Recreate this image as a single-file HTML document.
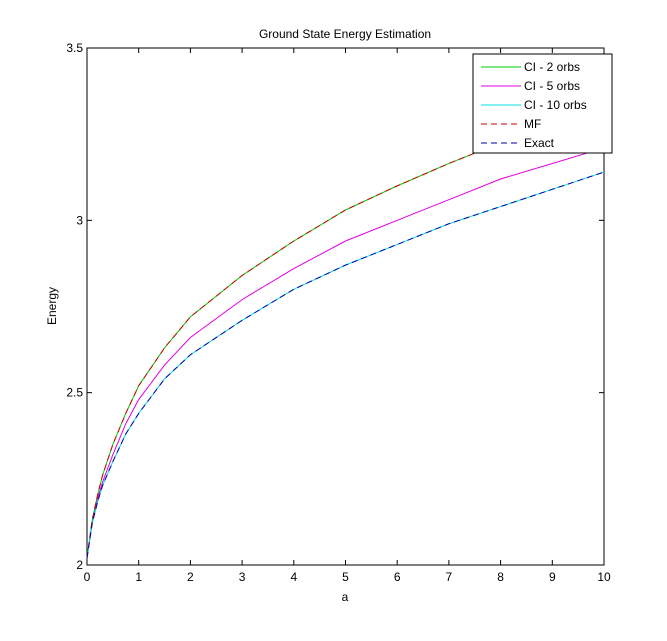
<!DOCTYPE html>
<html><head><meta charset="utf-8"><style>
body{margin:0;background:#fff;font-family:"Liberation Sans",sans-serif;}
svg text{font-family:"Liberation Sans",sans-serif;font-size:12px;fill:#000;}
</style></head><body>
<svg id="chart" width="667" height="636">
<rect x="0" y="0" width="667" height="636" fill="#fff"/>
<text x="345" y="38" text-anchor="middle">Ground State Energy Estimation</text>
<text x="345" y="601" text-anchor="middle">a</text>
<text transform="translate(56,306) rotate(-90)" text-anchor="middle">Energy</text>
<g id="plot"></g>
</svg>
<script>
const xs = [0,0.1,0.2,0.3,0.5,0.75,1,1.5,2,3,4,5,6,7,8,9,10];
const ci2 = [2.02,2.13,2.2,2.26,2.35,2.44,2.52,2.63,2.72,2.84,2.94,3.03,3.10,3.165,3.225,3.28,3.335];
const ci5 = [2.02,2.12,2.19,2.24,2.32,2.41,2.48,2.58,2.66,2.77,2.86,2.94,3.0,3.06,3.12,3.165,3.21];
const exact = [2.02,2.12,2.18,2.23,2.3,2.38,2.44,2.54,2.61,2.71,2.80,2.87,2.93,2.99,3.04,3.09,3.14];
const xTicks = [0,1,2,3,4,5,6,7,8,9,10];
const yTicks = [2,2.5,3,3.5];
const yTickLabels = ["2","2.5","3","3.5"];
const L=87,R=604,T=48,B=565;
const sx=v=>L+(v-0)/(10-0)*(R-L);
const sy=v=>B-(v-2)/(3.5-2)*(B-T);
const NS="http://www.w3.org/2000/svg";
const g=document.getElementById('plot');
function mk(tag,attrs){const e=document.createElementNS(NS,tag);for(const k in attrs)e.setAttribute(k,attrs[k]);g.appendChild(e);return e;}
const box=mk('rect',{x:L,y:T,width:R-L,height:B-T,fill:'none',stroke:'#000','stroke-width':1});


xTicks.forEach(t=>{
  const x=sx(t);
  const l1=mk('line',{x1:x,y1:B,x2:x,y2:B-5,stroke:'#000'});
  
  
  const l2=mk('line',{x1:x,y1:T,x2:x,y2:T+5,stroke:'#000'});
  
  
  const tx=mk('text',{x:x,y:B+16,'text-anchor':'middle'});tx.textContent=t;
  
  
});
yTicks.forEach((t,i)=>{
  const y=sy(t);
  const l1=mk('line',{x1:L,y1:y,x2:L+5,y2:y,stroke:'#000'});
  
  
  const l2=mk('line',{x1:R,y1:y,x2:R-5,y2:y,stroke:'#000'});
  
  
  const tx=mk('text',{x:L-4,y:y+4,'text-anchor':'end'});tx.textContent=yTickLabels[i];
  
  
});
function line(vals,color,dash,name){
  const p=mk('polyline',{points:xs.map((x,i)=>sx(x)+','+sy(vals[i])).join(' '),fill:'none',stroke:color,'stroke-width':1,'stroke-dasharray':dash||'none'});
  
  
}
line(ci2,'#00cc00',null,'series-ci-2-orbs');
line(ci5,'#e000e0',null,'series-ci-5-orbs');
line(exact,'#00e0e0',null,'series-ci-10-orbs');
line(ci2,'#cc0000','6,4','series-mf');
line(exact,'#0000aa','6,4','series-exact');
// legend
const lg=mk('rect',{x:473,y:54,width:139,height:99,fill:'#fff',stroke:'#000'});


const items=[['CI - 2 orbs','#00cc00',null],['CI - 5 orbs','#e000e0',null],['CI - 10 orbs','#00e0e0',null],['MF','#cc0000','6,4'],['Exact','#0000aa','6,4']];
items.forEach((it,i)=>{
  const y=67+i*19;
  const l=mk('line',{x1:481,y1:y,x2:521,y2:y,stroke:it[1],'stroke-dasharray':it[2]||'none'});
  
  
  const t=mk('text',{x:524,y:y+4});t.textContent=it[0];
  
  
});
</script>
</body></html>
